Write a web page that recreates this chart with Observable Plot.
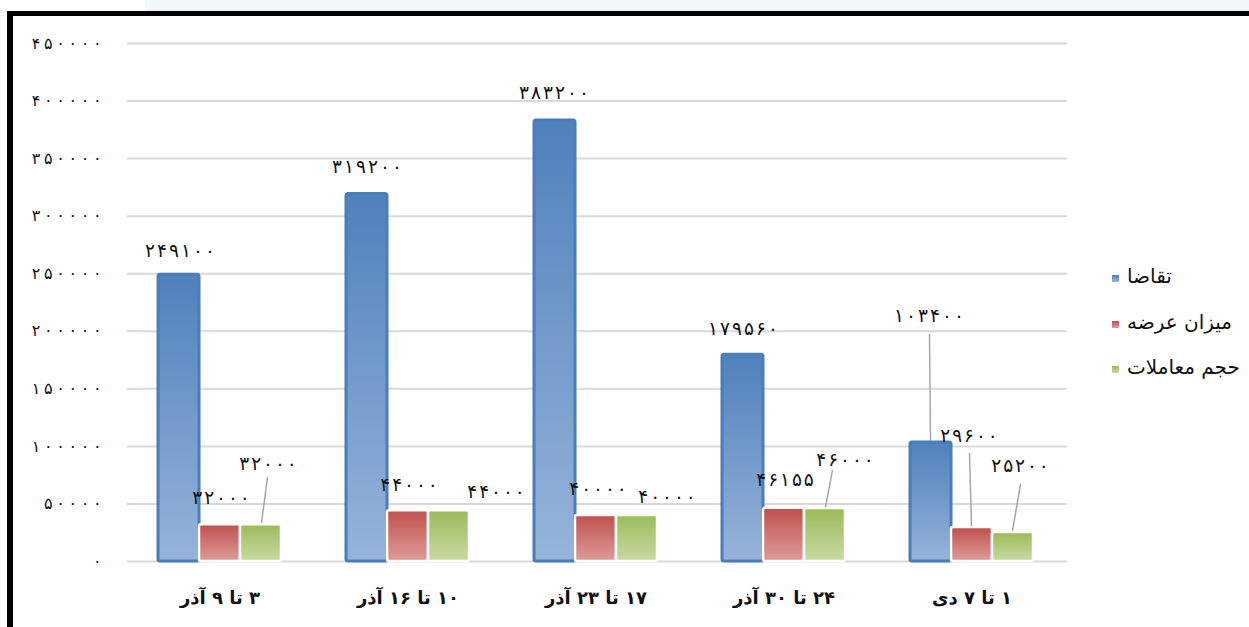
<!DOCTYPE html>
<html>
<head>
<meta charset="utf-8">
<script src="https://cdn.jsdelivr.net/npm/d3@7"></script>
<script src="https://cdn.jsdelivr.net/npm/@observablehq/plot@0.6"></script>
<style>
  html, body { margin: 0; padding: 0; background: #fff; }
  body { width: 1249px; height: 627px; overflow: hidden; position: relative; font-family: "DejaVu Sans", sans-serif; }
  #strip { position: absolute; left: 145px; top: 0; width: 1104px; height: 11px; background: #f3f8fd; }
  #frame { position: absolute; left: 7px; top: 11px; width: 1242px; height: 616px; border-top: 5px solid #000; border-left: 6px solid #000; box-sizing: border-box; }
  #chart { position: absolute; left: 13px; top: 16px; }
  #chart svg { font-family: "DejaVu Sans", sans-serif; }
  #chart g[aria-label="fx-axis tick label"] text { direction: rtl; unicode-bidi: embed; }
  #legend { position: absolute; left: 1112px; top: 264px; font-size: 20px; color: #111; }
  #legend .item { display: flex; align-items: center; height: 24px; margin-bottom: 21.5px; }
  #legend .sw { width: 7px; height: 7px; margin-right: 8px; margin-top: 5px; }
</style>
</head>
<body>
<div id="strip"></div>
<div id="frame"></div>
<div id="chart"></div>
<div id="legend"></div>
<script>
// Weekly figures: demand, supply offered and traded volume
const weeks = ["۳ تا ۹ آذر", "۱۰ تا ۱۶ آذر", "۱۷ تا ۲۳ آذر", "۲۴ تا ۳۰ آذر", "۱ تا ۷ دی"];
const seriesNames = ["تقاضا", "میزان عرضه", "حجم معاملات"];
const demand = [249100, 319200, 383200, 179560, 103400];
const supply = [32000, 44000, 40000, 46155, 29600];
const volume = [32000, 44000, 40000, 46000, 25200];
const yTicks = [0, 50000, 100000, 150000, 200000, 250000, 300000, 350000, 400000, 450000];

// Series colours as vertical gradients [top, bottom]
const gradients = {
  "تقاضا": ["#4f81bd", "#97b4d9"],
  "میزان عرضه": ["#c0504d", "#dd9c9a"],
  "حجم معاملات": ["#9bbb59", "#c8daa2"]
};
const gradId = {"تقاضا": "grad-blue", "میزان عرضه": "grad-red", "حجم معاملات": "grad-green"};

// Pixel nudges for the value labels, per series and week
const labelOffset = {
  "تقاضا":       [[1, -24], [0, -27], [-1, -27], [0, -26], [-2, -126]],
  "میزان عرضه":  [[1, -27], [1, -26], [2, -26], [1, -28], [-3, -91]],
  "حجم معاملات": [[7, -61], [47, -19], [30, -18], [20, -48], [7, -66]]
};
// Leader lines joining displaced labels to their bars (pixel offsets from bar top centre)
const leaderOffsets = [
  {week: 0, series: "حجم معاملات", from: [7, -47], to: [1, -1]},
  {week: 3, series: "حجم معاملات", from: [8, -38], to: [1, -1]},
  {week: 4, series: "تقاضا", from: [-1, -108], to: [0, -1]},
  {week: 4, series: "میزان عرضه", from: [-2, -74], to: [0, -1]},
  {week: 4, series: "حجم معاملات", from: [8, -48], to: [0, -1]}
];
// Advance per digit for the widely spaced numerals
const digitAdvance = 12.3;

const fa = n => String(n).replace(/\d/g, d => "۰۱۲۳۴۵۶۷۸۹"[d]);
const seriesValues = {"تقاضا": demand, "میزان عرضه": supply, "حجم معاملات": volume};
const rows = weeks.flatMap((week, i) => seriesNames.map(series => ({week, series, value: seriesValues[series][i]})));
const leaderRows = leaderOffsets.map(l => ({...l, week: weeks[l.week], value: seriesValues[l.series][l.week]}));

const defs = () => {
  const d = d3.create("svg:defs");
  for (const s of seriesNames) {
    const g = d.append("linearGradient").attr("id", gradId[s]).attr("x1", 0).attr("y1", 0).attr("x2", 0).attr("y2", 1);
    g.append("stop").attr("offset", "0%").attr("stop-color", gradients[s][0]);
    g.append("stop").attr("offset", "100%").attr("stop-color", gradients[s][1]);
  }
  return d.node();
};

const bars = (series, opts) => Plot.barY(rows.filter(r => r.series === series), {
  fx: "week", x: "series", y: "value", fill: `url(#${gradId[series]})`, rx: 2, ...opts
});

const valueLabels = rows.map(r => {
  const [dx, dy] = labelOffset[r.series][weeks.indexOf(r.week)];
  return Plot.text([r], {fx: "week", x: "series", y: "value", text: d => fa(d.value), dx, dy, fontSize: 18.5, fill: "#111"});
});

const leaders = Plot.dot(leaderRows, {
  fx: "week", x: "series", y: "value",
  render(index, scales, values) {
    const half = scales.x && scales.x.bandwidth ? scales.x.bandwidth() / 2 : 0;
    const g = d3.create("svg:g").attr("stroke", "#a6a6a6").attr("stroke-width", 1.5);
    for (const i of index) {
      const d = leaderRows[i];
      const x = values.x[i] + half, y = values.y[i];
      g.append("line")
        .attr("x1", x + d.from[0]).attr("y1", y + d.from[1])
        .attr("x2", x + d.to[0]).attr("y2", y + d.to[1]);
    }
    return g.node();
  }
});

const chart = Plot.plot({
  width: 1236,
  height: 611,
  marginLeft: 113,
  marginRight: 184,
  marginTop: 27,
  marginBottom: 66,
  fx: {domain: weeks, paddingInner: 0.335, paddingOuter: 0.16, label: null},
  x: {domain: seriesNames, padding: 0, axis: null},
  y: {domain: [0, 450000]},
  marks: [
    defs,
    // gridlines drawn per week, widened so they join across the gaps
    Plot.gridY(yTicks, {stroke: "#d9d9d9", strokeOpacity: 1, strokeWidth: 2, insetLeft: -30, insetRight: -33}),
    Plot.axisY({ticks: yTicks, tickFormat: fa, tickSize: 0, tickPadding: 56, fontSize: 16, fill: "#111", label: null}),
    Plot.axisFx({anchor: "bottom", tickSize: 0, tickPadding: 30, fontSize: 18, fontWeight: "bold", label: null, fill: "#111"}),
    bars("تقاضا", {stroke: "#4a7dbb", strokeWidth: 3}),
    bars("میزان عرضه", {stroke: "#fff", strokeWidth: 2.5}),
    bars("حجم معاملات", {stroke: "#fff", strokeWidth: 2.5}),
    leaders,
    ...valueLabels
  ]
});

// Spread the numerals out (CSS letter-spacing is ignored for Arabic-script digits)
d3.select(chart)
  .selectAll('g[aria-label="text"] text, g[aria-label="y-axis tick label"] text')
  .each(function() {
    const n = this.textContent.length;
    if (n > 1) {
      this.setAttribute("textLength", n * digitAdvance - 4);
      this.setAttribute("lengthAdjust", "spacing");
    }
  });
document.getElementById("chart").appendChild(chart);

// Legend at the right of the plot
const legend = d3.select("#legend");
for (const s of seriesNames) {
  const item = legend.append("div").attr("class", "item");
  item.append("div").attr("class", "sw").style("background", `linear-gradient(${gradients[s][0]}, ${gradients[s][1]})`);
  item.append("span").text(s);
}
</script>
</body>
</html>
